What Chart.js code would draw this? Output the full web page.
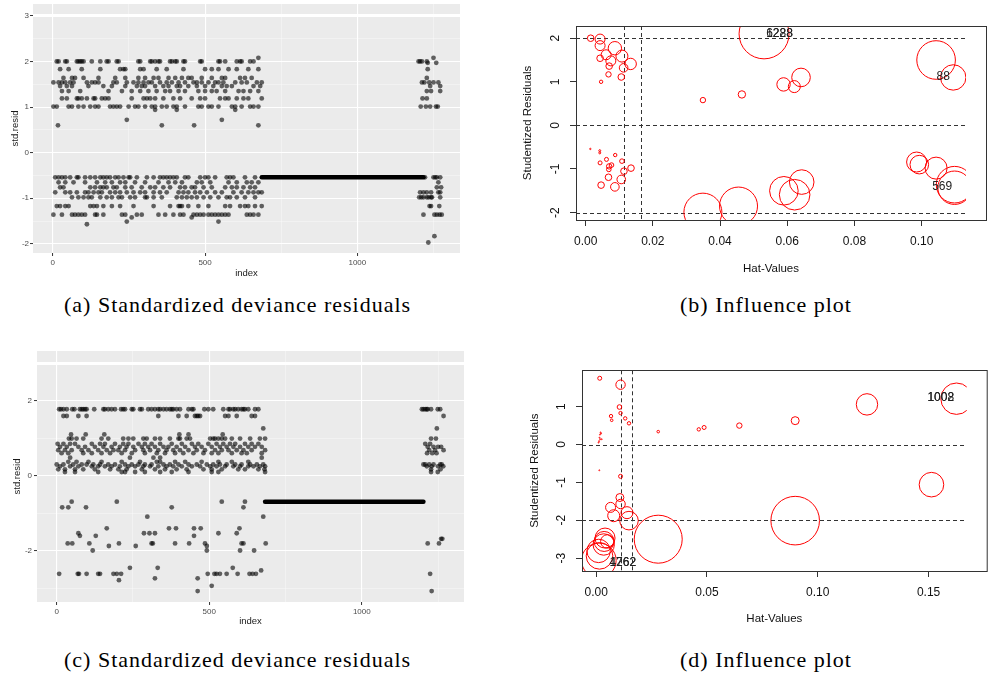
<!DOCTYPE html>
<html>
<head>
<meta charset="utf-8">
<title>Residual diagnostics</title>
<script src="https://cdn.jsdelivr.net/npm/chart.js@4.4.1/dist/chart.umd.min.js"></script>
<style>
  html, body { margin: 0; padding: 0; background: #fff; }
  #page { position: relative; width: 992px; height: 677px; overflow: hidden; }
  canvas { position: absolute; }
  .cap { position: absolute; font-family: 'Liberation Serif', 'DejaVu Serif', serif; font-size: 22px; letter-spacing: 1px; line-height: 24px; color: #000; white-space: nowrap; }
</style>
</head>
<body>
<div id="page">
  <canvas id="chartA" width="470" height="285" style="left:0;top:0"></canvas>
  <canvas id="chartB" width="492" height="285" style="left:500px;top:0"></canvas>
  <canvas id="chartC" width="470" height="295" style="left:0;top:345px"></canvas>
  <canvas id="chartD" width="492" height="290" style="left:500px;top:345px"></canvas>
  <div class="cap" style="left:64px;top:293px">(a) Standardized deviance residuals</div>
  <div class="cap" style="left:680px;top:293px">(b) Influence plot</div>
  <div class="cap" style="left:64px;top:648px">(c) Standardized deviance residuals</div>
  <div class="cap" style="left:680px;top:648px">(d) Influence plot</div>
</div>
<script>
'use strict';

// ---- (a) std.resid by index: one list of indices per residual level ----
var aLevels = [2.08, 2.0, 1.97, 1.83, 1.64, 1.54, 1.46, 1.35, 1.19, 1.01, 0.94, 0.72, 0.6,
  -0.54, -0.65, -0.76, -0.87, -0.98, -1.17, -1.36, -1.42, -1.51, -1.57, -1.83, -1.97];
var aIndex = [
  [675, 1250],
  [13, 19, 41, 46, 79, 84, 90, 95, 101, 128, 156, 177, 183, 210, 216, 281, 287, 320, 325, 336, 347, 352, 385, 391, 402, 407, 429, 434, 484, 489, 544, 549, 566, 604, 615, 620, 648, 659, 1201, 1206, 1212, 1228],
  [1231, 1259],
  [24, 52, 95, 156, 221, 232, 238, 287, 298, 341, 374, 429, 500, 522, 544, 577, 604, 642, 675, 1231],
  [35, 63, 73, 101, 150, 205, 238, 281, 303, 331, 347, 380, 402, 424, 445, 456, 489, 522, 555, 566, 615, 631, 653, 1228],
  [2, 19, 30, 41, 57, 68, 112, 128, 139, 150, 199, 210, 243, 265, 281, 298, 314, 325, 352, 374, 391, 413, 434, 462, 473, 489, 511, 533, 544, 560, 599, 620, 637, 670, 686, 1212, 1220, 1236, 1250, 1266],
  [24, 46, 63, 117, 166, 194, 238, 276, 292, 303, 336, 363, 380, 407, 418, 445, 473, 500, 527, 555, 571, 588, 659, 681, 1239, 1272],
  [30, 52, 90, 183, 227, 259, 287, 314, 341, 369, 385, 413, 434, 478, 500, 522, 538, 566, 610, 626, 648, 675, 1228, 1242, 1272],
  [30, 46, 79, 84, 95, 112, 134, 139, 161, 172, 183, 259, 298, 309, 320, 336, 363, 396, 418, 456, 484, 500, 549, 566, 577, 604, 626, 642, 686, 1214, 1228],
  [2, 13, 52, 63, 84, 101, 123, 139, 150, 188, 199, 210, 221, 249, 270, 281, 303, 325, 336, 358, 374, 396, 407, 434, 478, 489, 511, 522, 544, 588, 599, 620, 648, 659, 675, 1208, 1225, 1239, 1258, 1264],
  [336, 407, 599],
  [243, 555],
  [17, 358, 464, 675],
  [8, 19, 30, 41, 57, 79, 84, 106, 123, 139, 156, 166, 177, 188, 205, 216, 232, 249, 254, 276, 309, 331, 352, 363, 374, 385, 396, 407, 434, 445, 484, 500, 511, 533, 571, 582, 593, 631, 664, 1222, 1250, 1256, 1261, 1272],
  [19, 41, 68, 106, 145, 172, 194, 221, 238, 270, 303, 347, 380, 402, 424, 473, 489, 517, 577, 604, 637, 653, 675, 1266],
  [24, 35, 123, 139, 156, 166, 177, 199, 210, 238, 259, 292, 320, 336, 363, 385, 418, 434, 456, 467, 495, 522, 566, 588, 604, 626, 648, 664, 1261, 1275],
  [8, 41, 57, 79, 106, 117, 134, 150, 161, 188, 205, 221, 243, 265, 287, 303, 331, 352, 374, 413, 429, 445, 467, 484, 506, 533, 555, 593, 620, 642, 659, 675, 686, 1206, 1217, 1228, 1242, 1266, 1272],
  [63, 84, 101, 117, 128, 156, 177, 194, 216, 227, 254, 270, 303, 309, 331, 358, 407, 424, 440, 456, 473, 495, 517, 544, 571, 582, 604, 631, 664, 1203, 1210, 1217, 1228, 1234, 1242, 1245, 1272],
  [13, 24, 41, 52, 123, 134, 145, 166, 194, 221, 265, 331, 385, 413, 418, 424, 445, 478, 511, 566, 582, 615, 631, 642, 664, 686, 1237, 1242, 1269],
  [2, 30, 63, 73, 84, 95, 106, 139, 145, 166, 227, 238, 276, 292, 347, 369, 396, 418, 429, 462, 473, 484, 495, 511, 522, 533, 544, 555, 566, 577, 637, 648, 659, 675, 1217, 1253, 1261, 1270, 1277],
  [259, 456],
  [243, 544],
  [112],
  [1253],
  [1233]
];
// run of identical residuals between the two groups
var aFlatIdx = [686, 1217];
var aFlatResid = [-0.54, -0.54];
var aXTicks = [0, 250, 500, 750, 1000, 1250];
var aXLabels = [0, 500, 1000];
var aYTicks = [-2, -1.5, -1, -0.5, 0, 0.5, 1, 1.5, 2, 2.5, 3];
var aYLabels = [-2, -1, 0, 1, 2, 3];

// ---- (b) influence plot: hat value, studentized residual, circle size ----
var bHat = [0.0015, 0.0043, 0.0043, 0.0087, 0.0061, 0.0075, 0.0043, 0.0108, 0.0070, 0.0113, 0.0134, 0.0068, 0.0106, 0.0046,
  0.0531, 0.0349, 0.0465, 0.0589, 0.0621, 0.0641, 0.1043, 0.1094,
  0.0014, 0.0042, 0.0042, 0.0088, 0.0062, 0.0043, 0.0108, 0.0077, 0.0070, 0.0069, 0.0114, 0.0135, 0.0068, 0.0106, 0.0046, 0.0087,
  0.0349, 0.0455, 0.0590, 0.0622, 0.0643, 0.0985, 0.0993, 0.1043, 0.1098, 0.1098];
var bStud = [2.0, 1.98, 1.83, 1.77, 1.62, 1.48, 1.54, 1.59, 1.36, 1.32, 1.41, 1.17, 1.11, 1.0,
  2.1, 0.58, 0.71, 0.94, 0.89, 1.1, 1.5, 1.1,
  -0.54, -0.58, -0.63, -0.68, -0.78, -0.86, -0.82, -0.91, -0.94, -1.01, -1.05, -0.98, -1.19, -1.24, -1.37, -1.41,
  -1.99, -1.85, -1.5, -1.59, -1.3, -0.84, -0.9, -0.98, -1.36, -1.43];
var bSize = [3.3, 5, 5, 6.7, 5, 5, 3.3, 6, 3.3, 4.3, 5.7, 2.7, 3.3, 1.7,
  25, 2.7, 3.7, 6.7, 6, 9.3, 19.3, 12.7,
  0.7, 1, 1, 1.7, 2, 2, 2.3, 2.3, 2.7, 2.3, 3.3, 3.3, 3.3, 4.3, 3.3, 4.3,
  19, 19, 14.3, 15.3, 12.3, 10, 9.3, 11, 18.3, 16.7];
var bLabelText = ['1288', '6228', '88', '569'];
var bLabelHat = [0.0577, 0.0577, 0.1064, 0.1061];
var bLabelStud = [2.1, 2.1, 1.11, -1.41];
var bXTicks = [0, 0.02, 0.04, 0.06, 0.08, 0.10];
var bYTicks = [-2, -1, 0, 1, 2];
var bHLines = [-2, 0, 2];
var bVLines = [0.0113, 0.0166];

// ---- (c) std.resid by index ----
var cLevels = [1.77, 1.59, 1.26, 1.1, 0.99, 0.85, 0.77, 0.68, 0.6, 0.48, 0.37, 0.3, 0.25, 0.17, 0.1,
  -0.69, -0.84, -1.09, -1.4, -1.53, -1.6, -1.68, -1.8, -1.87, -1.99, -2.45, -2.52, -2.61, -2.73, -2.78, -2.93, -3.07];
var cIndex = [
  [8, 14, 22, 33, 51, 58, 76, 82, 87, 93, 98, 123, 153, 158, 169, 180, 191, 211, 218, 224, 246, 251, 273, 279, 300, 311, 322, 333, 339, 350, 360, 371, 377, 382, 393, 404, 432, 443, 448, 484, 497, 513, 546, 563, 568, 579, 585, 595, 606, 612, 617, 628, 650, 661, 1197, 1202, 1208, 1213, 1216, 1227, 1249, 1257],
  [22, 33, 71, 98, 333, 399, 426, 453, 459, 464, 470, 552, 563, 590, 639, 650, 1268],
  [677, 1246],
  [47, 95, 156, 402, 432, 544],
  [40, 49, 65, 87, 147, 169, 218, 235, 251, 284, 295, 322, 339, 371, 399, 404, 426, 437, 503, 513, 519, 530, 541, 552, 574, 601, 634, 666, 683, 1227, 1243],
  [3, 22, 44, 60, 115, 142, 158, 191, 218, 235, 268, 289, 311, 339, 377, 410, 443, 464, 497, 524, 546, 568, 585, 617, 639, 661, 1208, 1224],
  [11, 33, 71, 93, 125, 153, 180, 207, 229, 251, 279, 300, 322, 350, 366, 393, 421, 453, 475, 508, 535, 557, 579, 601, 628, 650, 672, 1216, 1235, 1250, 1260],
  [5, 27, 49, 82, 104, 136, 164, 186, 202, 224, 257, 284, 306, 333, 360, 382, 404, 432, 459, 486, 519, 541, 563, 590, 612, 639, 683, 1221, 1240, 1268],
  [16, 38, 87, 115, 147, 175, 213, 246, 289, 328, 355, 388, 415, 448, 481, 508, 530, 574, 606, 623, 672, 1214, 1231, 1245],
  [44, 240, 317, 339, 672],
  [38, 65, 104, 147, 213, 273, 328, 339, 388, 421, 475, 530, 574, 628],
  [0, 22, 54, 82, 98, 120, 142, 169, 191, 224, 246, 268, 289, 311, 350, 371, 399, 432, 459, 492, 513, 535, 557, 585, 606, 634, 656, 677, 1202, 1208, 1221, 1235, 1257, 1262],
  [11, 44, 71, 115, 136, 158, 180, 207, 235, 257, 284, 306, 333, 360, 382, 410, 443, 470, 503, 524, 552, 579, 601, 628, 645, 666, 683, 1213, 1229, 1250, 1267],
  [5, 27, 60, 87, 125, 175, 202, 229, 279, 322, 355, 393, 426, 481, 508, 541, 595, 617, 661, 681, 1227, 1258],
  [27, 60, 136, 213, 224, 257, 289, 339, 377, 432, 508, 530, 683, 1227, 1249],
  [49, 197, 541, 617],
  [18, 38, 96, 377, 612],
  [297, 677],
  [164, 368, 391, 450, 472, 599],
  [71, 286, 304, 322, 530, 590],
  [76, 128, 450],
  [1260, 1264],
  [36, 51, 107, 204, 311, 315, 388, 434, 486, 606, 612, 685, 1216, 1253],
  [171, 259, 492],
  [118, 492, 601, 647],
  [240, 331, 577],
  [670],
  [8, 69, 73, 98, 136, 142, 186, 197, 211, 495, 517, 524, 535, 557, 593, 632, 642, 653, 1224],
  [322, 462],
  [204],
  [508],
  [462, 1229]
];
var cFlatIdx = [683, 1202];
var cFlatResid = [-0.69, -0.69];
var cXTicks = [0, 250, 500, 750, 1000, 1250];
var cXLabels = [0, 500, 1000];
var cYTicks = [-3, -2, -1, 0, 1, 2, 3];
var cYLabels = [-2, 0, 2];

// ---- (d) influence plot ----
var dHat = [0.0016, 0.011, 0.0105, 0.011, 0.0067, 0.007, 0.0131, 0.0148,
  0.0013, 0.0015, 0.0017, 0.002, 0.0022, 0.0025, 0.0018, 0.0011, 0.0014,
  0.028, 0.0463, 0.0487, 0.0646, 0.0898, 0.1222, 0.1626, 0.1513, 0.0898, 0.028,
  0.011, 0.0107, 0.011, 0.0065, 0.0139, 0.0079, 0.0148,
  0.004, 0.0036, 0.0034, 0.005, 0.0011, 0.0015, 0.0012];
var dStud = [1.75, 1.58, 0.99, 0.83, 0.75, 0.64, 0.69, 0.56,
  0.09, 0.18, 0.26, 0.32, 0.29, 0.14, 0.14, 0.05, -0.68,
  0.34, 0.40, 0.45, 0.5, 0.63, 1.06, 1.21, -1.06, -2.01, -2.5,
  -0.84, -1.4, -1.57, -1.66, -1.8, -1.88, -2.01,
  -2.47, -2.56, -2.64, -2.56, -2.81, -2.94, -3.06];
var dSize = [2, 4.7, 2.3, 1.7, 1.7, 1.3, 1.7, 1.7,
  0.5, 0.5, 0.5, 0.5, 0.5, 0.5, 0.5, 0.5, 0.5,
  1.3, 1.7, 2, 2.7, 4, 10.7, 15.7, 12.3, 24.3, 24,
  2, 4, 4.7, 5, 6, 6, 9.3,
  10, 10, 10.7, 6.7, 11.7, 13.3, 17.3];
var dLabelText = ['1262', '4762', '1008', '1002'];
var dLabelHat = [0.012, 0.012, 0.1555, 0.1555];
var dLabelStud = [-3.13, -3.13, 1.23, 1.23];
var dXTicks = [0, 0.05, 0.10, 0.15];
var dYTicks = [-3, -2, -1, 0, 1];
var dHLines = [-2, 0];
var dVLines = [0.011, 0.0163];

var SANS = "'Liberation Sans', Arial, sans-serif";
Chart.defaults.font.family = SANS;

function levelPoints(levels, lists) {
  var out = [];
  levels.forEach(function (lv, i) {
    lists[i].forEach(function (idx) { out.push({ x: idx, y: lv }); });
  });
  return out;
}

function zipPoints(xs, ys, rs) {
  return xs.map(function (x, i) {
    var p = { x: x, y: ys[i] };
    if (rs) p.r = rs[i];
    return p;
  });
}

function setTicks(values) {
  return function (scale) {
    scale.ticks = values.map(function (v) { return { value: v }; });
  };
}

// fixed axis sizes, no extra room for overhanging labels
function fixHeight(h) {
  return function (sc) { sc.height = h; sc.paddingLeft = 0; sc.paddingRight = 0; };
}
function fixWidth(w) {
  return function (sc) { sc.width = w; sc.paddingTop = 0; sc.paddingBottom = 0; };
}

function tickVal(c) { return c.tick ? c.tick.value : null; }

/** ggplot-like gray panel */
var ggPanel = {
  id: 'ggPanel',
  beforeDraw: function (chart) {
    var a = chart.chartArea, ctx = chart.ctx;
    ctx.save();
    ctx.fillStyle = '#EBEBEB';
    ctx.fillRect(a.left, a.top, a.right - a.left, a.bottom - a.top);
    ctx.restore();
  }
};

function ggGrid(labels, thick) {
  return {
    color: function (c) {
      var v = tickVal(c);
      return (labels.indexOf(v) >= 0 || v === thick) ? '#FFFFFF' : 'rgba(255,255,255,0.65)';
    },
    lineWidth: function (c) {
      var v = tickVal(c);
      if (v === thick) return 3;
      return labels.indexOf(v) >= 0 ? 1.1 : 0.55;
    },
    tickColor: function (c) {
      return labels.indexOf(tickVal(c)) >= 0 ? '#333333' : 'rgba(0,0,0,0)';
    },
    tickWidth: 1,
    tickLength: 3
  };
}

function ggChart(canvasId, s) {
  return new Chart(document.getElementById(canvasId), {
    type: 'scatter',
    data: {
      datasets: [
        {
          data: s.points,
          pointRadius: 2.4,
          pointBackgroundColor: 'rgba(0,0,0,0.6)',
          pointBorderWidth: 0,
          pointBorderColor: 'rgba(0,0,0,0)'
        },
        {
          type: 'line',
          data: s.flat,
          borderColor: '#000',
          borderWidth: 4.5,
          borderCapStyle: 'round',
          pointRadius: 0,
          showLine: true,
          fill: false
        }
      ]
    },
    options: {
      responsive: false,
      animation: false,
      events: [],
      layout: { padding: { top: s.padTop, right: s.padRight, bottom: 0, left: 0 } },
      plugins: { legend: { display: false }, tooltip: { enabled: false } },
      scales: {
        x: {
          type: 'linear', min: s.xMin, max: s.xMax,
          afterBuildTicks: setTicks(s.xTicks),
          afterFit: fixHeight(s.xAxisH),
          ticks: {
            autoSkip: false, maxRotation: 0, padding: 2, color: '#4D4D4D', font: { size: 8 },
            callback: function (v) { return s.xLabels.indexOf(v) >= 0 ? String(v) : ''; }
          },
          grid: ggGrid(s.xLabels, null),
          border: { display: false },
          title: { display: true, text: 'index', color: '#1a1a1a', font: { size: 9.5 }, padding: { top: 0, bottom: s.xTitlePad } }
        },
        y: {
          type: 'linear', min: s.yMin, max: s.yMax,
          afterBuildTicks: setTicks(s.yTicks),
          afterFit: fixWidth(s.yAxisW),
          ticks: {
            autoSkip: false, padding: s.yTickPad, color: '#4D4D4D', font: { size: 8 },
            callback: function (v) { return s.yLabels.indexOf(v) >= 0 ? String(v) : ''; }
          },
          grid: ggGrid(s.yLabels, 3),
          border: { display: false },
          title: { display: true, text: 'std.resid', color: '#1a1a1a', font: { size: 9.5 }, padding: { top: s.yTitlePad, bottom: 0 } }
        }
      }
    },
    plugins: [ggPanel]
  });
}

/** base-R style frame, dashed reference lines, rotated y labels and point ids */
function rFrame(s) {
  return {
    id: 'rFrame',
    beforeDatasetsDraw: function (chart) {
      var ctx = chart.ctx, a = chart.chartArea, xs = chart.scales.x, ys = chart.scales.y;
      ctx.save();
      ctx.strokeStyle = '#333';
      ctx.lineWidth = 1;
      ctx.setLineDash([4, 3]);
      s.hLines.forEach(function (v) {
        var y = Math.round(ys.getPixelForValue(v)) + 0.5;
        ctx.beginPath(); ctx.moveTo(a.left, y); ctx.lineTo(a.right, y); ctx.stroke();
      });
      s.vLines.forEach(function (v) {
        var x = Math.round(xs.getPixelForValue(v)) + 0.5;
        ctx.beginPath(); ctx.moveTo(x, a.top); ctx.lineTo(x, a.bottom); ctx.stroke();
      });
      ctx.restore();
    },
    afterDraw: function (chart) {
      var ctx = chart.ctx, a = chart.chartArea, xs = chart.scales.x, ys = chart.scales.y;
      ctx.save();
      ctx.strokeStyle = '#333';
      ctx.lineWidth = 1;
      ctx.strokeRect(Math.round(a.left) + 0.5, Math.round(a.top) + 0.5, a.right - a.left + 20, Math.round(a.bottom - a.top));
      ctx.fillStyle = '#111';
      ctx.font = '12px ' + SANS;
      ctx.textAlign = 'center';
      ctx.textBaseline = 'middle';
      ys.ticks.forEach(function (t) {
        ctx.save();
        ctx.translate(a.left - 20, ys.getPixelForValue(t.value));
        ctx.rotate(-Math.PI / 2);
        ctx.fillText(String(t.value), 0, 0);
        ctx.restore();
      });
      ctx.fillStyle = '#222';
      s.labelText.forEach(function (txt, i) {
        ctx.fillText(txt, xs.getPixelForValue(s.labelX[i]), ys.getPixelForValue(s.labelY[i]));
      });
      ctx.restore();
    }
  };
}

function rChart(canvasId, s) {
  return new Chart(document.getElementById(canvasId), {
    type: 'bubble',
    data: {
      datasets: [{
        data: s.points,
        backgroundColor: 'rgba(0,0,0,0)',
        borderColor: '#FF0000',
        borderWidth: 1,
        clip: 0
      }]
    },
    options: {
      responsive: false,
      animation: false,
      events: [],
      layout: { padding: { top: s.padTop, right: 0, bottom: 0, left: 0 } },
      plugins: { legend: { display: false }, tooltip: { enabled: false } },
      scales: {
        x: {
          type: 'linear', min: s.xMin, max: s.xMax,
          afterBuildTicks: setTicks(s.xTicks),
          afterFit: fixHeight(s.xAxisH),
          ticks: {
            autoSkip: false, maxRotation: 0, padding: 8, color: '#111', font: { size: 12 },
            callback: function (v) { return Number(v).toFixed(2); }
          },
          grid: { drawOnChartArea: false, tickLength: 6, tickColor: '#333', lineWidth: 1 },
          border: { display: false },
          title: { display: true, text: 'Hat-Values', color: '#111', font: { size: 11.5 }, padding: { top: 0, bottom: 9 } }
        },
        y: {
          type: 'linear', min: s.yMin, max: s.yMax,
          afterBuildTicks: setTicks(s.yTicks),
          afterFit: fixWidth(s.yAxisW),
          ticks: { autoSkip: false, padding: 4, font: { size: 12 }, callback: function () { return ''; } },
          grid: { drawOnChartArea: false, tickLength: 6, tickColor: '#333', lineWidth: 1 },
          border: { display: false },
          title: { display: true, text: 'Studentized Residuals', color: '#111', font: { size: 11.5 }, padding: { top: s.yTitlePad, bottom: 0 } }
        }
      }
    },
    plugins: [rFrame(s)]
  });
}

ggChart('chartA', {
  points: levelPoints(aLevels, aIndex),
  flat: zipPoints(aFlatIdx, aFlatResid),
  xMin: -65, xMax: 1337, yMin: -2.2, yMax: 3.26,
  xTicks: aXTicks, xLabels: aXLabels, yTicks: aYTicks, yLabels: aYLabels,
  padTop: 2, padRight: 10, xAxisH: 32, yAxisW: 33,
  yTickPad: 1, xTitlePad: 6.3, yTitlePad: 9.3
});

ggChart('chartC', {
  points: levelPoints(cLevels, cIndex),
  flat: zipPoints(cFlatIdx, cFlatResid),
  xMin: -64.6, xMax: 1335, yMin: -3.36, yMax: 3.32,
  xTicks: cXTicks, xLabels: cXLabels, yTicks: cYTicks, yLabels: cYLabels,
  padTop: 6, padRight: 6, xAxisH: 38, yAxisW: 37,
  yTickPad: 2, xTitlePad: 12.6, yTitlePad: 11.3
});

rChart('chartB', {
  points: zipPoints(bHat, bStud, bSize),
  xMin: -0.00287, xMax: 0.1132, yMin: -2.17, yMax: 2.28,
  xTicks: bXTicks, yTicks: bYTicks, hLines: bHLines, vLines: bVLines,
  labelText: bLabelText, labelX: bLabelHat, labelY: bLabelStud,
  padTop: 6, xAxisH: 65, yAxisW: 76, yTitlePad: 21
});

rChart('chartD', {
  points: zipPoints(dHat, dStud, dSize),
  xMin: -0.0064, xMax: 0.1672, yMin: -3.34, yMax: 1.96,
  xTicks: dXTicks, yTicks: dYTicks, hLines: dHLines, vLines: dVLines,
  labelText: dLabelText, labelX: dLabelHat, labelY: dLabelStud,
  padTop: 16, xAxisH: 64, yAxisW: 82, yTitlePad: 28
});
</script>
</body>
</html>
